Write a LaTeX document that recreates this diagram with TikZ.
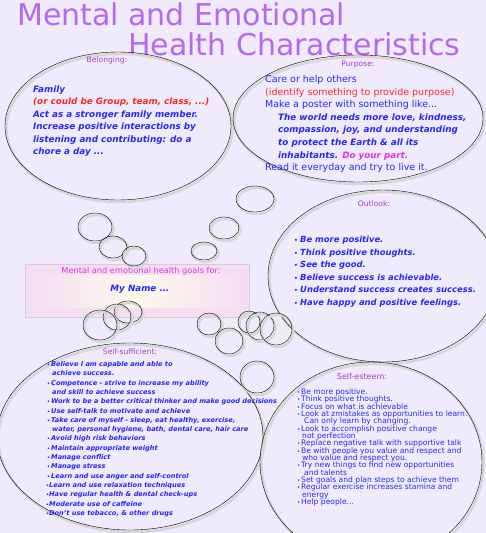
\documentclass[tikz,border=0pt]{standalone}
\usepackage{fontspec}
\setmainfont{DejaVu Sans}
\newfontfamily\titlefont{DejaVu Sans}
\usepackage{tikz}
\usetikzlibrary{shapes, positioning, calc}

\definecolor{bgcol}{RGB}{239,235,252}
\definecolor{txtblue}{RGB}{40,40,240}
\definecolor{txtred}{RGB}{250,40,40}
\definecolor{txtpink}{RGB}{225,50,225}
\definecolor{lblpurple}{RGB}{170,60,200}
\definecolor{titlepurple}{RGB}{182,104,240}
\definecolor{boxpink}{RGB}{245,222,242}
\definecolor{boxcream}{RGB}{251,249,236}

\newcommand\dotb[1][4pt]{\makebox[#1][l]{\scalebox{0.7}{\textbullet}}}
\newcommand\tightlines{\lineskiplimit=-20pt\relax\lineskip=0pt\relax}

\begin{document}
\begin{tikzpicture}[x=1pt, y=-1pt,
	bubble/.style={ellipse, draw, thin, inner sep=0pt,
		preaction={draw=black!16, line width=2.4pt, transform canvas={shift={(1.5pt,-2pt)}}}},
	lbl/.style={text=lblpurple, inner sep=0pt, font=\fontsize{7.6}{9}\selectfont},
	body/.style={anchor=base west, inner sep=0pt, align=left, text=txtblue}]
	\fill[bgcol] (0,0) rectangle (486,533);
	\useasboundingbox (0,0) rectangle (486,533);
	% title
	\node[anchor=base west, inner sep=0pt, text=titlepurple, font=\titlefont\fontsize{30}{30}\selectfont] (title1) at (17,25) {Mental and Emotional};
	\node[anchor=base west, inner sep=0pt, text=titlepurple, font=\titlefont\fontsize{30}{30}\selectfont] (title2) at (128,55) {Health Characteristics};
	% big ellipses
	\node[bubble, minimum width=226pt, minimum height=148pt] (belonging) at (118,126) {};
	\node[bubble, minimum width=250pt, minimum height=127pt] (purpose) at (358,118.5) {};
	\node[bubble, minimum width=230pt, minimum height=172pt] (outlook) at (383,276) {};
	\node[bubble, minimum width=266pt, minimum height=187pt] (selfsuff) at (130,436.5) {};
	\node[bubble, minimum width=222pt, minimum height=200pt] (selfest) at (371,462) {};
	% goals box
	\node[draw=black!18, fill=boxpink, minimum width=224pt, minimum height=53pt, inner sep=0pt] (goalbox) at (137,290.5) {};
	\shade[left color=boxpink, right color=boxpink, middle color=boxcream]
		([xshift=8pt,yshift=-12pt]goalbox.north west) rectangle ([xshift=-8pt,yshift=10pt]goalbox.south east);
	\node[text=txtpink, inner sep=0pt, font=\fontsize{8.2}{9}\selectfont] (goallbl) at (141,271) {Mental and emotional health goals for:};
	\node[text=txtblue, inner sep=0pt, font=\fontsize{8.8}{12}\selectfont\bfseries\itshape] (myname) at (140,289) {My Name ...};
	% thought bubbles
	\foreach \cx/\cy/\rx/\ry [count=\i] in {95/227/17/14, 113/247/14/11, 134/256/12/10, 255/199/19/13,
		224/228/15/11, 204/251/13/9, 128/312/14/11, 117/317/14/13, 100/325/17/15, 209/324/12/11,
		229/341/14/13, 249/322/11/11, 260/326/14/14, 276/329/16/16, 257/377/17/16}
		\node[bubble, minimum width=\rx*2pt, minimum height=\ry*2pt] (bub\i) at (\cx,\cy) {};
	% labels
	\node[lbl, below=5pt of belonging.north, xshift=-11pt] (belonglbl) {Belonging:};
	\node[lbl, below=6pt of purpose.north] (purplbl) {Purpose:};
	\node[lbl, below=11pt of outlook.north, xshift=-9pt] (outlbl) {Outlook:};
	\node[lbl, below=6pt of selfsuff.north] (sufflbl) {Self-sufficient:};
	\node[lbl, below=11pt of selfest.north, xshift=-9pt, font=\fontsize{8}{9}\selectfont] (estlbl) {Self-esteem:};
	% texts (anchored at the baseline of their last line)
	\node[body, font=\fontsize{8.8}{12.5}\selectfont\bfseries\itshape] (famtext) at (33,154.5) {Family\\
		\textcolor{txtred}{(or could be Group, team, class, ...)}\\
		Act as a stronger family member.\\
		Increase positive interactions by\\
		listening and contributing: do a\\
		chore a day ...};
	\node[body, font=\fontsize{9.5}{12.6}\selectfont] (purtext) at (265,170.7) {Care or help others\\
		\textcolor{txtred}{(identify something to provide purpose)}\\
		Make a poster with something like...\\
		\hspace*{13pt}{\fontsize{8.8}{12.6}\selectfont\bfseries\itshape The world needs more love, kindness,}\\
		\hspace*{13pt}{\fontsize{8.8}{12.6}\selectfont\bfseries\itshape compassion, joy, and understanding}\\
		\hspace*{13pt}{\fontsize{8.8}{12.6}\selectfont\bfseries\itshape to protect the Earth \& all its}\\
		\hspace*{13pt}{\fontsize{8.8}{12.6}\selectfont\bfseries\itshape inhabitants. \textcolor{txtpink}{Do your part.}}\\
		Read it everyday and try to live it.};
	\node[body, font=\fontsize{8.4}{12.5}\selectfont\bfseries\itshape] (outtext) at (294,305) {\dotb[6pt]Be more positive.\\
		\dotb[6pt]Think positive thoughts.\\
		\dotb[6pt]See the good.\\
		\dotb[6pt]Believe success is achievable.\\
		\dotb[6pt]Understand success creates success.\\
		\dotb[6pt]Have happy and positive feelings.};
	\node[body, font=\fontsize{6.6}{9.3}\selectfont\bfseries\itshape] (sufftext) at (47,515.3) {\dotb Believe I am capable and able to\\
		\hspace*{5pt}achieve success.\\
		\dotb Competence - strive to increase my ability\\
		\hspace*{5pt}and skill to achieve success\\
		\dotb Work to be a better critical thinker and make good decisions\\
		\dotb Use self-talk to motivate and achieve\\
		\dotb Take care of myself - sleep, eat healthy, exercise,\\
		\hspace*{5pt}water, personal hygiene, bath, dental care, hair care\\
		\dotb Avoid high risk behaviors\\
		\dotb Maintain appropriate weight\\
		\dotb Manage conflict\\
		\dotb Manage stress\\
		\dotb Learn and use anger and self-control\\
		\hspace*{-1pt}\dotb[3pt]Learn and use relaxation techniques\\
		\hspace*{-1pt}\dotb[3pt]Have regular health \& dental check-ups\\
		\hspace*{-1pt}\dotb[3pt]Moderate use of caffeine\\
		\hspace*{-1pt}\dotb[3pt]Don't use tobacco, \& other drugs};
	\node[body, font={\fontsize{7.6}{7.33}\selectfont\tightlines}] (esttext) at (297,504.5) {\dotb Be more positive.\\
		\dotb Think positive thoughts.\\
		\dotb Focus on what is achievable\\
		\dotb Look at zmistakes as opportunities to learn.\\
		\hspace*{7pt}Can only learn by changing.\\
		\dotb Look to accomplish positive change\\
		\hspace*{5pt}not perfection\\
		\dotb Replace negative talk with supportive talk\\
		\dotb Be with people you value and respect and\\
		\hspace*{5pt}who value and respect you.\\
		\dotb Try new things to find new opportunities\\
		\hspace*{7pt}and talents\\
		\dotb Set goals and plan steps to achieve them\\
		\dotb Regular exercise increases stamina and\\
		\hspace*{5pt}energy\\
		\dotb Help people...};
\end{tikzpicture}
\end{document}
